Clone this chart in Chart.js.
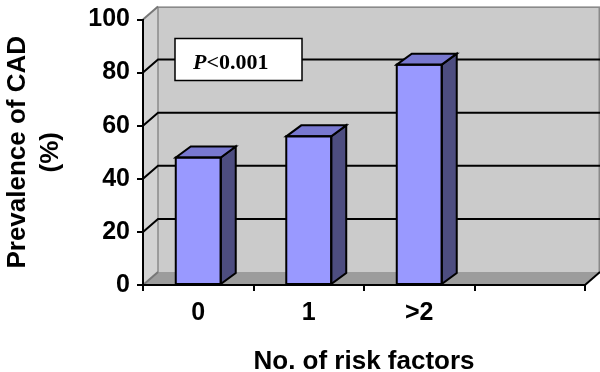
<!DOCTYPE html>
<html><head><meta charset="utf-8">
<script src="https://cdn.jsdelivr.net/npm/chart.js@4"></script>
<style>html,body{margin:0;padding:0;background:#fff}#wrap{width:600px;height:372px}</style>
</head><body><div id="wrap"><canvas id="c" width="600" height="372"></canvas></div>
<script>
const categories = ['0', '1', '>2', ''];
const prevalence = [48, 56, 83, null];
const yTicks = [0, 20, 40, 60, 80, 100];
const yTitle = ['Prevalence of CAD', '(%)'];
const xTitle = 'No. of risk factors';
const pItalic = 'P';
const pRest = '<0.001';

const SANS = '"Liberation Sans", Arial, sans-serif';
const SERIF = '"Liberation Serif", "Times New Roman", serif';
const WALL_DX = 15, WALL_DY = -13;
const BAR_DX = 15, BAR_DY = -11;

const threeD = {
  id: 'threeD',
  beforeDraw(chart) {
    const ctx = chart.ctx;
    const {left, right, top, bottom} = chart.chartArea;
    const ys = chart.scales.y;
    ctx.save();
    ctx.lineJoin = 'miter';
    // left wall
    ctx.beginPath();
    ctx.moveTo(left, top); ctx.lineTo(left + WALL_DX, top + WALL_DY);
    ctx.lineTo(left + WALL_DX, bottom + WALL_DY); ctx.lineTo(left, bottom); ctx.closePath();
    ctx.fillStyle = '#D2D2D2'; ctx.fill();
    // back wall
    ctx.fillStyle = '#CBCBCB';
    ctx.fillRect(left + WALL_DX, top + WALL_DY, right - left, bottom - top);
    ctx.strokeStyle = '#8A8A8A'; ctx.lineWidth = 1.5;
    ctx.strokeRect(left + WALL_DX, top + WALL_DY + 0.75, right - left - 0.75, bottom - top);
    // floor
    ctx.beginPath();
    ctx.moveTo(left, bottom); ctx.lineTo(right, bottom);
    ctx.lineTo(right + WALL_DX, bottom + WALL_DY); ctx.lineTo(left + WALL_DX, bottom + WALL_DY); ctx.closePath();
    ctx.fillStyle = '#9C9C9C'; ctx.fill();
    ctx.beginPath();
    ctx.moveTo(right, bottom); ctx.lineTo(right + WALL_DX, bottom + WALL_DY);
    ctx.strokeStyle = '#000'; ctx.lineWidth = 2; ctx.stroke();
    // gridlines
    yTicks.forEach(v => {
      const py = ys.getPixelForValue(v);
      ctx.beginPath();
      ctx.moveTo(left, py); ctx.lineTo(left + WALL_DX, py + WALL_DY);
      if (v > 0 && v < 100) ctx.lineTo(right + WALL_DX, py + WALL_DY);
      ctx.strokeStyle = (v > 0 && v < 100) ? '#000' : '#777';
      ctx.lineWidth = 2;
      ctx.stroke();
    });
    ctx.restore();
  },
  afterDatasetsDraw(chart) {
    const ctx = chart.ctx;
    const meta = chart.getDatasetMeta(0);
    ctx.save();
    ctx.lineWidth = 2; ctx.strokeStyle = '#000'; ctx.lineJoin = 'miter';
    meta.data.forEach((bar, i) => {
      if (prevalence[i] == null) return;
      const {x, y, base, width} = bar.getProps(['x', 'y', 'base', 'width'], true);
      const l = x - width / 2, r = x + width / 2;
      // side face
      ctx.beginPath();
      ctx.moveTo(r, y); ctx.lineTo(r + BAR_DX, y + BAR_DY);
      ctx.lineTo(r + BAR_DX, base + BAR_DY); ctx.lineTo(r, base); ctx.closePath();
      ctx.fillStyle = '#4D4D80'; ctx.fill(); ctx.stroke();
      // top face
      ctx.beginPath();
      ctx.moveTo(l, y); ctx.lineTo(l + BAR_DX, y + BAR_DY);
      ctx.lineTo(r + BAR_DX, y + BAR_DY); ctx.lineTo(r, y); ctx.closePath();
      ctx.fillStyle = '#7878D0'; ctx.fill(); ctx.stroke();
      // front outline
      ctx.strokeRect(l, y, width, base - y);
    });
    ctx.restore();
  },
  afterDraw(chart) {
    const ctx = chart.ctx;
    const {left, top} = chart.chartArea;
    const bx = left + 32, by = top + 19, bw = 127, bh = 42;
    ctx.save();
    ctx.fillStyle = '#fff'; ctx.fillRect(bx, by, bw, bh);
    ctx.strokeStyle = '#000'; ctx.lineWidth = 1.5; ctx.strokeRect(bx, by, bw, bh);
    ctx.fillStyle = '#000'; ctx.textBaseline = 'alphabetic';
    ctx.font = 'italic bold 22px ' + SERIF;
    const tx = bx + 18, ty = by + 30;
    ctx.fillText(pItalic, tx, ty);
    const w = ctx.measureText(pItalic).width;
    ctx.font = 'bold 22px ' + SERIF;
    ctx.fillText(pRest, tx + w, ty);
    ctx.restore();
  }
};

new Chart(document.getElementById('c'), {
  type: 'bar',
  data: {
    labels: categories,
    datasets: [{
      data: prevalence,
      backgroundColor: '#9999FF',
      borderColor: '#000',
      borderWidth: 0,
      barPercentage: 0.407,
      categoryPercentage: 1
    }]
  },
  options: {
    responsive: false,
    animation: false,
    layout: { padding: { left: 0, top: 13, right: 15, bottom: 0 } },
    plugins: { legend: { display: false }, tooltip: { enabled: false } },
    scales: {
      x: {
        afterFit: s => { s.height = 87; },
        grid: { offset: true, drawOnChartArea: false, drawTicks: true, tickLength: 6, color: '#000', lineWidth: 2 },
        border: { display: true, color: '#000', width: 2 },
        ticks: { color: '#000', padding: 10, maxRotation: 0, autoSkip: false, font: { family: SANS, size: 25, weight: 'bold', lineHeight: 1 } },
        title: { display: true, text: xTitle, color: '#000', padding: 0, font: { family: SANS, size: 26, weight: 'bold', lineHeight: 0.8 } }
      },
      y: {
        min: 0, max: 100,
        afterBuildTicks: s => { s.ticks = yTicks.map(v => ({ value: v })); },
        afterFit: s => { s.width = 143; },
        grid: { drawOnChartArea: false, drawTicks: true, tickLength: 6, color: '#000', lineWidth: 2 },
        border: { display: true, color: '#000', width: 2 },
        ticks: { color: '#000', padding: 7, font: { family: SANS, size: 25, weight: 'bold', lineHeight: 1 } },
        title: { display: true, text: yTitle, color: '#000', padding: { top: 1, bottom: 0 }, font: { family: SANS, size: 26, weight: 'bold', lineHeight: 1.27 } }
      }
    }
  },
  plugins: [threeD]
});
</script>
</body></html>
